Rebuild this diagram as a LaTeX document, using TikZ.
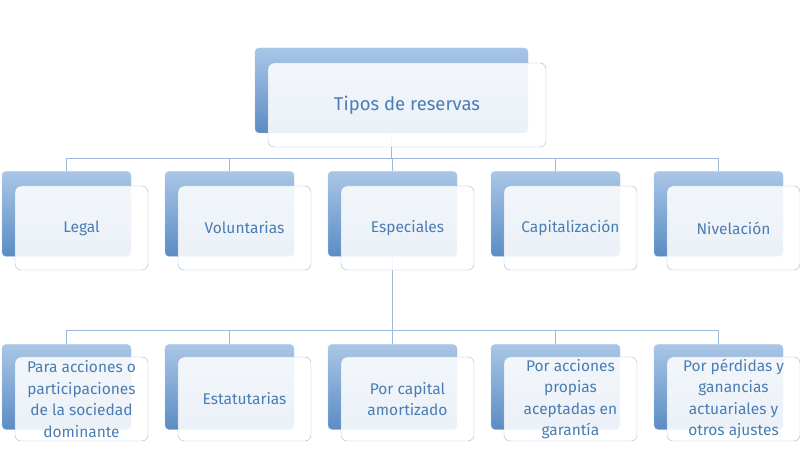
\documentclass[tikz,border=0pt]{standalone}
\usepackage{fontspec}
\setmainfont{Fira Sans}
\usetikzlibrary{positioning}

\definecolor{boxblue}{HTML}{5B8CC4}
\definecolor{boxlight}{HTML}{A9C6E6}
\definecolor{txtblue}{HTML}{4A7DB4}
\definecolor{lineblue}{HTML}{9DBAD8}

\tikzset{
  back/.style={rounded corners=4pt, top color=boxlight, bottom color=boxblue,
    draw=boxlight, minimum width=#1, minimum height=85pt, inner sep=0pt},
  front/.style={rounded corners=6pt, fill=white, fill opacity=.88, text opacity=1,
    draw=lineblue, minimum width=#1, minimum height=84pt, inner sep=0pt,
    text=txtblue, align=center, font=\fontsize{15.5}{21.5}\selectfont},
  bus/.style={draw=lineblue, line width=.8pt}
}

\begin{document}
\begin{tikzpicture}[x=1pt,y=1pt]
  \useasboundingbox (0,0) rectangle (800,455);
  % back boxes
  \node[back=273pt] (top-b) at (391.5,364.5) {};
  \foreach \i in {0,...,4} {
    \node[back=129pt] (mid-b\i) at ({66.5+163*\i},241) {};
    \node[back=129pt] (low-b\i) at ({66.5+163*\i},68) {};
  }
  % connectors
  \coordinate (busa-l) at (mid-b0.north |- 0,297);
  \coordinate (busa-r) at (mid-b4.north |- 0,297);
  \coordinate (busb-l) at (low-b0.north |- 0,125);
  \coordinate (busb-r) at (low-b4.north |- 0,125);
  \draw[bus] (top-b.south) -- (top-b.south |- busa-l);
  \draw[bus] (busa-l) -- (busa-r);
  \draw[bus] (busb-l) -- (busb-r);
  \draw[bus] (mid-b2.south) -- (mid-b2.south |- busb-l);
  \foreach \i in {0,...,4} {
    \draw[bus] (mid-b\i.north |- busa-l) -- (mid-b\i.north);
    \draw[bus] (low-b\i.north |- busb-l) -- (low-b\i.north);
  }
  % front boxes
  \node[front=278pt, font=\fontsize{18.5}{22}\selectfont] (top) at (407,350) {Tipos de reservas};
  \node[front=133pt] (legal) at (81.5,227) {Legal};
  \node[front=133pt] (volunt) at (244.5,227) {Voluntarias};
  \node[front=133pt] (espec) at (407.5,227) {Especiales};
  \node[front=133pt] (capit) at (570.5,227) {Capitalización};
  \node[front=133pt] (nivel) at (733.5,227) {Nivelación};
  \node[front=133pt] (acc) at (81.5,56) {Para acciones o\\participaciones\\de la sociedad\\dominante};
  \node[front=133pt] (estat) at (244.5,56) {Estatutarias};
  \node[front=133pt] (amort) at (407.5,56) {Por capital\\amortizado};
  \node[front=133pt] (propias) at (570.5,56) {Por acciones\\propias\\aceptadas en\\garantía};
  \node[front=133pt] (perd) at (733.5,56) {Por pérdidas y\\ganancias\\actuariales y\\otros ajustes};
\end{tikzpicture}
\end{document}
